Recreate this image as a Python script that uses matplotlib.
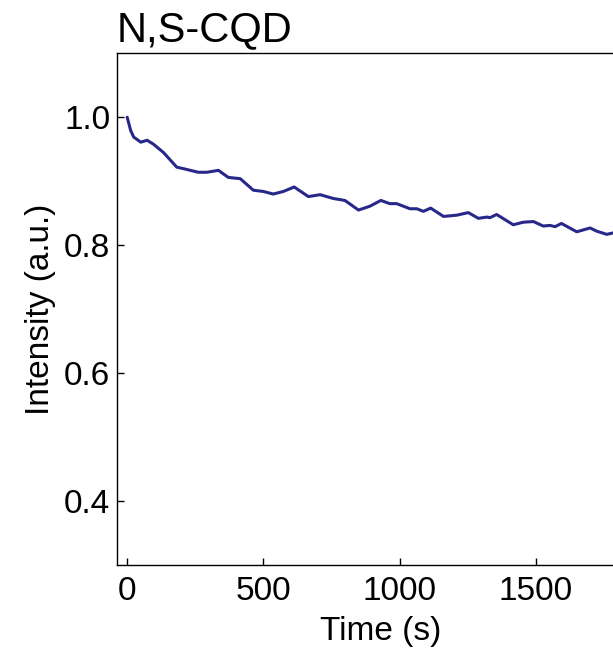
import matplotlib
matplotlib.use("Agg")
import matplotlib.pyplot as plt

plt.rcParams['font.family'] = ['Liberation Sans', 'DejaVu Sans']

time_s = [0, 13, 24, 50, 73, 96, 133, 182, 213, 261, 292, 335, 371, 415, 463, 500,
          536, 573, 613, 665, 708, 757, 799, 849, 891, 931, 964, 989, 1038, 1063,
          1087, 1114, 1161, 1210, 1252, 1289, 1320, 1331, 1356, 1417, 1454, 1491,
          1527, 1552, 1570, 1594, 1650, 1699, 1723, 1760, 1791]
intensity = [1.000, 0.979, 0.969, 0.961, 0.964, 0.958, 0.945, 0.922, 0.919, 0.914,
             0.914, 0.917, 0.906, 0.904, 0.886, 0.884, 0.880, 0.884, 0.891, 0.876,
             0.879, 0.873, 0.870, 0.855, 0.861, 0.870, 0.865, 0.865, 0.857, 0.857,
             0.853, 0.858, 0.845, 0.847, 0.851, 0.842, 0.844, 0.843, 0.848, 0.832,
             0.836, 0.837, 0.830, 0.831, 0.829, 0.834, 0.821, 0.827, 0.822, 0.817,
             0.820]
xticks = [0, 500, 1000, 1500]
yticks = [0.4, 0.6, 0.8, 1.0]

fig = plt.figure(figsize=(6.13, 6.49), dpi=100)
ax = fig.add_axes([0.191, 0.129, 0.861, 0.789])
ax.plot(time_s, intensity, color='#28288a', lw=2.2,
        solid_joinstyle='round', solid_capstyle='round')
ax.set_xlim(-37, 1900)
ax.set_ylim(0.3, 1.1)
ax.set_xticks(xticks)
ax.set_yticks(yticks)
ax.set_yticklabels([f"{v:.1f}" for v in yticks])
ax.tick_params(direction='in', length=5, width=1, labelsize=24)
ax.tick_params(axis='y', pad=5)
ax.tick_params(axis='x', pad=8)
for s in ax.spines.values():
    s.set_linewidth(1.0)
ax.set_xlabel("Time (s)", fontsize=24, labelpad=6)
ax.set_ylabel("Intensity (a.u.)", fontsize=24, labelpad=6)
fig.text(0.191, 0.937, "N,S-CQD", fontsize=30, ha='left', va='baseline')
fig.savefig("out.png", dpi=100)
